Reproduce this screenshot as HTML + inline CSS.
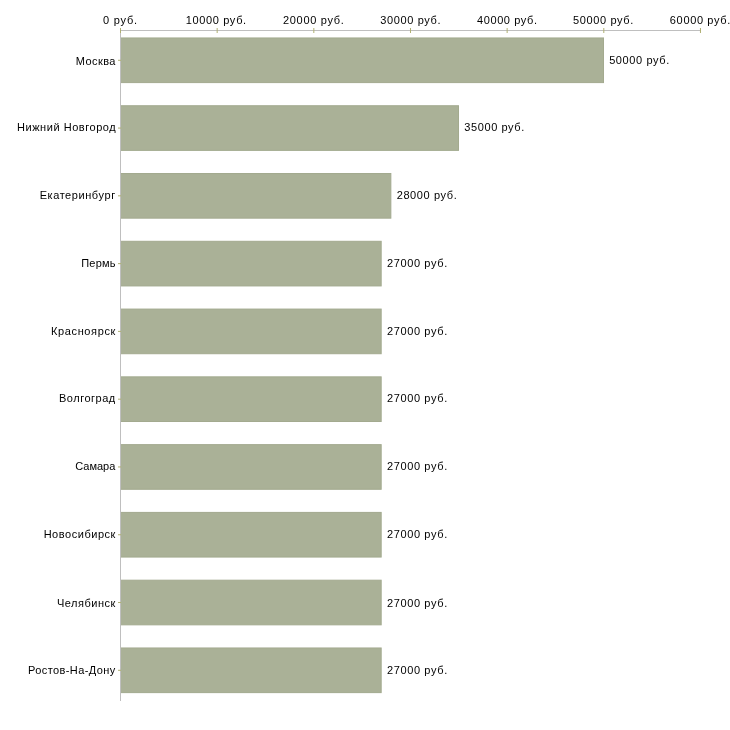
<!DOCTYPE html>
<html><head><meta charset="utf-8"><style>
html,body{margin:0;padding:0;background:#fff;width:730px;height:730px;overflow:hidden}
svg{display:block;will-change:transform}
text{font-family:"Liberation Sans",sans-serif;font-size:11px;fill:#000}
</style></head><body>
<svg width="730" height="730" viewBox="0 0 730 730">
<rect x="120.50" y="37.95" width="483.00" height="44.65" fill="#aab197" stroke="#a3aa8f" stroke-width="1"/>
<rect x="120.50" y="105.73" width="338.01" height="44.65" fill="#aab197" stroke="#a3aa8f" stroke-width="1"/>
<rect x="120.50" y="173.51" width="270.35" height="44.65" fill="#aab197" stroke="#a3aa8f" stroke-width="1"/>
<rect x="120.50" y="241.29" width="260.68" height="44.65" fill="#aab197" stroke="#a3aa8f" stroke-width="1"/>
<rect x="120.50" y="309.07" width="260.68" height="44.65" fill="#aab197" stroke="#a3aa8f" stroke-width="1"/>
<rect x="120.50" y="376.85" width="260.68" height="44.65" fill="#aab197" stroke="#a3aa8f" stroke-width="1"/>
<rect x="120.50" y="444.63" width="260.68" height="44.65" fill="#aab197" stroke="#a3aa8f" stroke-width="1"/>
<rect x="120.50" y="512.41" width="260.68" height="44.65" fill="#aab197" stroke="#a3aa8f" stroke-width="1"/>
<rect x="120.50" y="580.19" width="260.68" height="44.65" fill="#aab197" stroke="#a3aa8f" stroke-width="1"/>
<rect x="120.50" y="647.97" width="260.68" height="44.65" fill="#aab197" stroke="#a3aa8f" stroke-width="1"/>
<rect x="120" y="30" width="581" height="1" fill="#bfbfbf"/>
<rect x="120" y="30" width="1" height="671" fill="#bfbfbf"/>
<rect x="120.00" y="28" width="1" height="5" fill="#b0b073"/>
<rect x="216.66" y="28" width="1" height="5" fill="#b0b073"/>
<rect x="313.32" y="28" width="1" height="5" fill="#b0b073"/>
<rect x="409.98" y="28" width="1" height="5" fill="#b0b073"/>
<rect x="506.64" y="28" width="1" height="5" fill="#b0b073"/>
<rect x="603.30" y="28" width="1" height="5" fill="#b0b073"/>
<rect x="699.96" y="28" width="1" height="5" fill="#b0b073"/>
<rect x="118" y="59.78" width="3" height="1" fill="#b0b073"/>
<rect x="118" y="127.56" width="3" height="1" fill="#b0b073"/>
<rect x="118" y="195.33" width="3" height="1" fill="#b0b073"/>
<rect x="118" y="263.12" width="3" height="1" fill="#b0b073"/>
<rect x="118" y="330.89" width="3" height="1" fill="#b0b073"/>
<rect x="118" y="398.67" width="3" height="1" fill="#b0b073"/>
<rect x="118" y="466.45" width="3" height="1" fill="#b0b073"/>
<rect x="118" y="534.24" width="3" height="1" fill="#b0b073"/>
<rect x="118" y="602.02" width="3" height="1" fill="#b0b073"/>
<rect x="118" y="669.80" width="3" height="1" fill="#b0b073"/>
<text x="103.05" y="24" textLength="34.03" lengthAdjust="spacing">0 руб.</text>
<text x="185.69" y="24" textLength="60.46" lengthAdjust="spacing">10000 руб.</text>
<text x="282.99" y="24" textLength="60.78" lengthAdjust="spacing">20000 руб.</text>
<text x="380.20" y="24" textLength="60.35" lengthAdjust="spacing">30000 руб.</text>
<text x="477.04" y="24" textLength="59.92" lengthAdjust="spacing">40000 руб.</text>
<text x="573.04" y="24" textLength="60.21" lengthAdjust="spacing">50000 руб.</text>
<text x="669.86" y="24" textLength="60.42" lengthAdjust="spacing">60000 руб.</text>
<text x="75.79" y="65" textLength="39.67" lengthAdjust="spacing">Москва</text>
<text x="17.02" y="131" textLength="98.64" lengthAdjust="spacing">Нижний Новгород</text>
<text x="39.64" y="199" textLength="75.52" lengthAdjust="spacing">Екатеринбург</text>
<text x="81.21" y="267" textLength="34.33" lengthAdjust="spacing">Пермь</text>
<text x="51.02" y="335" textLength="64.31" lengthAdjust="spacing">Красноярск</text>
<text x="59.02" y="402" textLength="56.24" lengthAdjust="spacing">Волгоград</text>
<text x="75.21" y="470" textLength="40.16" lengthAdjust="spacing">Самара</text>
<text x="43.64" y="538" textLength="71.78" lengthAdjust="spacing">Новосибирск</text>
<text x="56.97" y="607" textLength="58.45" lengthAdjust="spacing">Челябинск</text>
<text x="28.02" y="674" textLength="87.13" lengthAdjust="spacing">Ростов-На-Дону</text>
<text x="609.14" y="64" textLength="60.15" lengthAdjust="spacing">50000 руб.</text>
<text x="464.22" y="131" textLength="60.10" lengthAdjust="spacing">35000 руб.</text>
<text x="396.66" y="199" textLength="60.07" lengthAdjust="spacing">28000 руб.</text>
<text x="386.88" y="267" textLength="60.34" lengthAdjust="spacing">27000 руб.</text>
<text x="386.88" y="335" textLength="60.34" lengthAdjust="spacing">27000 руб.</text>
<text x="386.88" y="402" textLength="60.34" lengthAdjust="spacing">27000 руб.</text>
<text x="386.88" y="470" textLength="60.34" lengthAdjust="spacing">27000 руб.</text>
<text x="386.88" y="538" textLength="60.34" lengthAdjust="spacing">27000 руб.</text>
<text x="386.88" y="607" textLength="60.34" lengthAdjust="spacing">27000 руб.</text>
<text x="386.88" y="674" textLength="60.34" lengthAdjust="spacing">27000 руб.</text>
</svg>
</body></html>
